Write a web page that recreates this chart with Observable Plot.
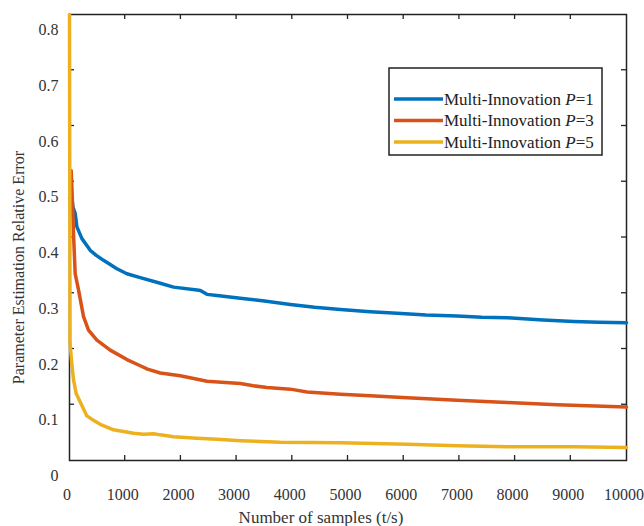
<!DOCTYPE html>
<html>
<head>
<meta charset="utf-8">
<script src="https://cdn.jsdelivr.net/npm/d3@7"></script>
<script src="https://cdn.jsdelivr.net/npm/@observablehq/plot@0.6"></script>
<style>
  html, body { margin: 0; padding: 0; background: #ffffff; }
  #chart { width: 644px; height: 526px; }
</style>
</head>
<body>
<div id="chart"></div>
<script>
// ---- Data ----
const seriesNames = ["Multi-Innovation P=1", "Multi-Innovation P=3", "Multi-Innovation P=5"];
const seriesColors = ["#0072BD", "#D95319", "#EDB120"];

const p1T = [0, 45, 61, 102, 133, 223, 372, 480, 611, 851, 1030, 1270, 1630, 1869, 2289, 2350, 2468, 2648, 3067, 3500, 3965, 4400, 4864, 5400, 5882, 6400, 6960, 7400, 7858, 8500, 9055, 9500, 10000];
const p1V = [0.47, 0.47, 0.455, 0.443, 0.419, 0.398, 0.377, 0.368, 0.359, 0.344, 0.335, 0.328, 0.318, 0.311, 0.306, 0.305, 0.298, 0.296, 0.291, 0.286, 0.280, 0.275, 0.271, 0.267, 0.264, 0.261, 0.259, 0.257, 0.256, 0.252, 0.2495, 0.248, 0.247];

const p3T = [0, 30, 43, 72, 102, 162, 252, 341, 492, 731, 1031, 1270, 1400, 1630, 1989, 2229, 2468, 3067, 3300, 3546, 3965, 4264, 4864, 5400, 6062, 6960, 7858, 8757, 9300, 10000];
const p3V = [0.52, 0.52, 0.49, 0.407, 0.335, 0.306, 0.258, 0.234, 0.216, 0.198, 0.181, 0.170, 0.164, 0.157, 0.152, 0.147, 0.142, 0.138, 0.134, 0.131, 0.128, 0.123, 0.119, 0.116, 0.1125, 0.108, 0.104, 0.100, 0.098, 0.096];

const p5T = [0, 10, 40, 72, 120, 192, 312, 430, 551, 790, 1150, 1330, 1509, 1630, 1869, 2289, 2648, 3067, 3786, 4864, 6062, 6960, 7858, 9055, 10000];
const p5V = [0.8, 0.21, 0.175, 0.145, 0.120, 0.105, 0.080, 0.072, 0.065, 0.055, 0.049, 0.047, 0.048, 0.046, 0.0427, 0.040, 0.038, 0.0355, 0.0326, 0.032, 0.029, 0.0266, 0.0248, 0.0248, 0.0235];

const xTickValues = [0, 1000, 2000, 3000, 4000, 5000, 6000, 7000, 8000, 9000, 10000];
const yTickValues = [0, 0.1, 0.2, 0.3, 0.4, 0.5, 0.6, 0.7, 0.8];
const xInnerTicks = [1000, 2000, 3000, 4000, 5000, 6000, 7000, 8000, 9000];
const yInnerTicks = [0.1, 0.2, 0.3, 0.4, 0.5, 0.6, 0.7];

const xTitle = "Number of samples (t/s)";
const yTitle = "Parameter Estimation Relative Error";

// ---- Build table ----
const seriesT = [p1T, p3T, p5T];
const seriesV = [p1V, p3V, p5V];
const data = seriesNames.flatMap((name, i) =>
  seriesT[i].map((t, j) => ({series: name, t, v: seriesV[i][j]}))
);

const FONT = "'Liberation Serif', 'Times New Roman', serif";

// Inward tick marks on all four sides, positioned via the plot's scales
function innerTicks(index, scales, values, dim) {
  const g = d3.create("svg:g").attr("stroke", "#222").attr("stroke-width", 1.3);
  const L = dim.marginLeft, R = dim.width - dim.marginRight;
  const T = dim.marginTop, B = dim.height - dim.marginBottom;
  const len = 5;
  for (const t of xInnerTicks) {
    const px = scales.x(t);
    g.append("line").attr("x1", px).attr("x2", px).attr("y1", B).attr("y2", B - len);
    g.append("line").attr("x1", px).attr("x2", px).attr("y1", T).attr("y2", T + len);
  }
  for (const v of yInnerTicks) {
    const py = scales.y(v);
    g.append("line").attr("x1", L).attr("x2", L + len).attr("y1", py).attr("y2", py);
    g.append("line").attr("x1", R).attr("x2", R - len).attr("y1", py).attr("y2", py);
  }
  return g.node();
}

// Legend drawn as a custom mark inside the frame
function legendMark(index, scales, values, dimensions) {
  const g = d3.create("svg:g")
    .attr("font-family", FONT)
    .attr("font-size", 17)
    .attr("text-anchor", "start")
    .attr("fill", "#222");
  const boxW = 213, boxH = 87;
  const left = dimensions.width - dimensions.marginRight - 24 - boxW;
  const top = dimensions.marginTop + 54;
  g.append("rect")
    .attr("x", left).attr("y", top)
    .attr("width", boxW).attr("height", boxH)
    .attr("fill", "#fff").attr("stroke", "#222").attr("stroke-width", 1.5);
  seriesNames.forEach((name, i) => {
    const y = top + 31 + i * 21.5;
    g.append("line")
      .attr("x1", left + 5).attr("x2", left + 54)
      .attr("y1", y).attr("y2", y)
      .attr("stroke", seriesColors[i]).attr("stroke-width", 3.5);
    const [pre, post] = name.split("P");
    const t = g.append("text").attr("x", left + 55).attr("y", y).attr("dy", "0.33em");
    t.append("tspan").text(pre);
    t.append("tspan").attr("font-style", "italic").text("P");
    t.append("tspan").text(post);
  });
  return g.node();
}

const chart = Plot.plot({
  width: 644,
  height: 526,
  marginLeft: 69,
  marginRight: 18,
  marginTop: 14,
  marginBottom: 66,
  style: {fontFamily: FONT, fontSize: "16px", color: "#333", background: "#fff"},
  x: {domain: [0, 10000]},
  y: {domain: [0, 0.8]},
  color: {domain: seriesNames, range: seriesColors},
  marks: [
    Plot.frame({stroke: "#222", strokeWidth: 1.5}),
    innerTicks,
    Plot.line(data, {x: "t", y: "v", z: "series", stroke: "series", strokeWidth: 3.5}),
    // tick labels
    Plot.axisX(xTickValues, {anchor: "bottom", tickSize: 0, tickPadding: 28, dx: -2.5, fill: "#333", fontSize: 16, label: null, tickFormat: d => String(d)}),
    Plot.axisY(yTickValues, {anchor: "left", tickSize: 0, tickPadding: 11, dy: 15.5, fill: "#333", fontSize: 16, label: null, tickFormat: d => d === 0 ? "0" : d3.format(".1f")(d)}),
    // axis titles
    Plot.text([xTitle], {text: d => d, frameAnchor: "bottom", textAnchor: "middle", lineAnchor: "middle", dx: -27, dy: 57.5, fill: "#333", fontSize: 17}),
    Plot.text([yTitle], {text: d => d, frameAnchor: "left", textAnchor: "middle", lineAnchor: "middle", rotate: -90, dx: -51, dy: 30, fill: "#333", fontSize: 16}),
    legendMark
  ]
});

document.getElementById("chart").appendChild(chart);
</script>
</body>
</html>
